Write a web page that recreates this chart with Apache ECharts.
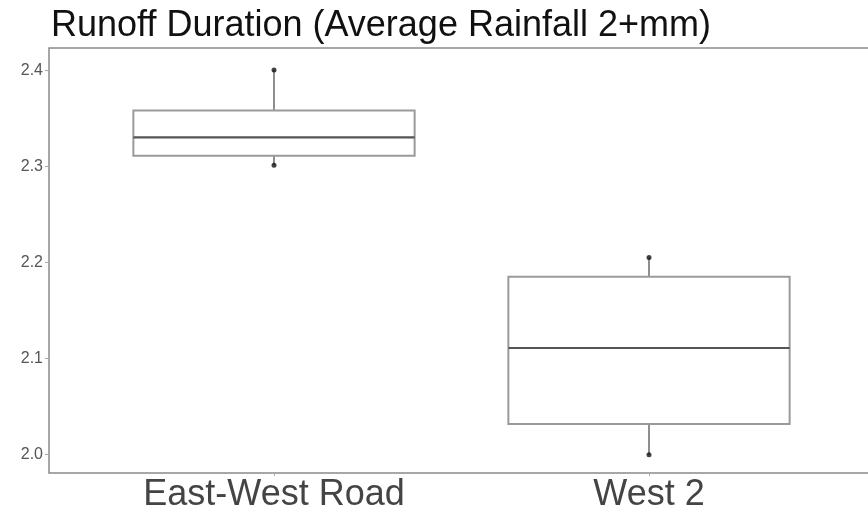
<!DOCTYPE html>
<html>
<head>
<meta charset="utf-8">
<script src="https://cdn.jsdelivr.net/npm/echarts@6/dist/echarts.min.js"></script>
<style>html,body{margin:0;padding:0;background:#fff}#c{width:868px;height:514px}</style>
</head>
<body>
<div id="c"></div>
<script>
const categories = ['East-West Road', 'West 2'];
const categoryPos = [1, 2];
// [min, Q1, median, Q3, max]
const boxStats = [
  [2.301, 2.311, 2.330, 2.358, 2.400],
  [2.000, 2.032, 2.111, 2.185, 2.205]
];
const pointValues = [
  [2.400, 2.301],
  [2.205, 2.000]
];
const yTicks = [2.0, 2.1, 2.2, 2.3, 2.4];

const boxData = boxStats.map((s, i) => [categoryPos[i]].concat(s));
const pts = [];
pointValues.forEach((arr, i) => arr.forEach(v => pts.push([categoryPos[i], v])));

function renderBox(params, api) {
  const x = api.value(0);
  const pMin = api.coord([x, api.value(1)]);
  const pQ1 = api.coord([x, api.value(2)]);
  const pMed = api.coord([x, api.value(3)]);
  const pQ3 = api.coord([x, api.value(4)]);
  const pMax = api.coord([x, api.value(5)]);
  const w = api.size([0.75, 0])[0];
  const cx = pMed[0];
  return {
    type: 'group',
    children: [
      {type: 'line', shape: {x1: cx, y1: pMax[1], x2: cx, y2: pQ3[1]}, style: {stroke: '#444', lineWidth: 1.2}},
      {type: 'line', shape: {x1: cx, y1: pQ1[1], x2: cx, y2: pMin[1]}, style: {stroke: '#444', lineWidth: 1.2}},
      {type: 'rect', shape: {x: cx - w / 2, y: pQ3[1], width: w, height: pQ1[1] - pQ3[1]}, style: {fill: '#fff', stroke: '#9a9a9a', lineWidth: 2}},
      {type: 'line', shape: {x1: cx - w / 2, y1: pMed[1], x2: cx + w / 2, y2: pMed[1]}, style: {stroke: '#555', lineWidth: 2.2}}
    ]
  };
}

const chart = echarts.init(document.getElementById('c'), null, {renderer: 'canvas'});
chart.setOption({
  animation: false,
  backgroundColor: '#ffffff',
  title: {
    text: 'Runoff Duration (Average Rainfall 2+mm)',
    left: 46, top: 3,
    textStyle: {fontFamily: 'Liberation Sans', fontSize: 36, fontWeight: 'normal', color: '#111'}
  },
  grid: {left: 49, width: 825, top: 48, bottom: 41, outerBoundsMode: 'none', containLabel: false, show: true, borderColor: '#8a8a8a', borderWidth: 1.5, backgroundColor: '#fff'},
  xAxis: {
    type: 'value', min: 0.4, max: 2.6,
    splitLine: {show: false},
    axisLine: {show: false},
    axisTick: {show: true, customValues: categoryPos, length: 3, lineStyle: {color: '#aaa'}},
    axisLabel: {
      customValues: categoryPos,
      formatter: v => categories[Math.round(v) - 1] || '',
      fontFamily: 'Liberation Sans', fontSize: 36, color: '#444', margin: 4
    }
  },
  yAxis: {
    type: 'value', min: 1.981, max: 2.423,
    splitLine: {show: false},
    axisLine: {show: false},
    axisTick: {show: true, customValues: yTicks, length: 4, lineStyle: {color: '#aaa'}},
    axisLabel: {
      customValues: yTicks,
      formatter: v => v.toFixed(1),
      fontFamily: 'Liberation Sans', fontSize: 16, color: '#555', margin: 6
    }
  },
  series: [
    {
      type: 'custom',
      data: boxData,
      encode: {x: 0, y: [1, 2, 3, 4, 5]},
      renderItem: renderBox,
      z: 2
    },
    {
      type: 'scatter',
      data: pts,
      symbol: 'circle',
      symbolSize: 5,
      itemStyle: {color: '#111'},
      z: 3
    }
  ]
});
</script>
</body>
</html>
